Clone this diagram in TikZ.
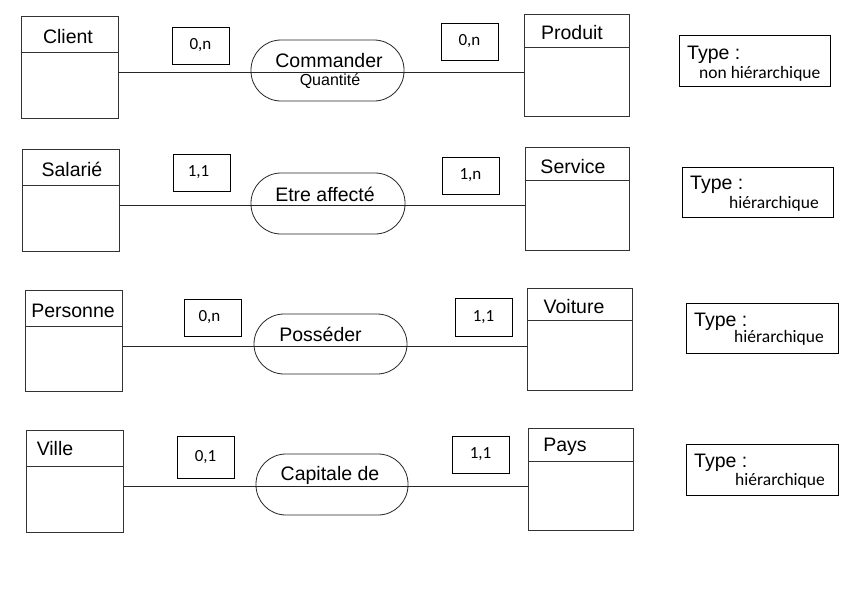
\documentclass[tikz,border=0pt]{standalone}
\usepackage{fontspec}
\setmainfont{Liberation Sans}
\newfontfamily\calfont{Carlito}
\tikzset{
  ent/.style={draw=black!80, line width=0.9pt, inner sep=0pt, minimum width=97, minimum height=102},
  card/.style={draw=black, line width=0.8pt, inner sep=0pt, minimum width=57, minimum height=37, font=\calfont\fontsize{17}{19}\selectfont},
  rel/.style={draw=black!85, line width=0.8pt, inner sep=0pt, minimum width=153, minimum height=61, rounded corners=30pt},
  typebox/.style={draw=black, line width=0.8pt, inner sep=0pt, minimum width=151, minimum height=51},
  big/.style={inner sep=0pt, font=\fontsize{19.5}{21}\selectfont},
  small/.style={inner sep=0pt, font=\fontsize{16}{18}\selectfont},
  typet/.style={inner sep=0pt, anchor=west, font=\fontsize{19.5}{21}\selectfont},
  typev/.style={inner sep=0pt, anchor=west, font=\calfont\fontsize{17.5}{19}\selectfont},
  conn/.style={draw=black!85, line width=0.8pt},
  hdr/.style={draw=black!80, line width=0.9pt}
}
\begin{document}
\begin{tikzpicture}[x=1pt,y=-1pt]
\useasboundingbox[fill=white] (0,0) rectangle (853,589);

% ---------- Row 1 ----------
\node[ent] (client) at (69.5,67) {};
\node[ent, minimum width=105] (produit) at (576.5,65) {};
\node[rel] (cmd) at (327.5,70.5) {};
\coordinate (y1) at (0,72);
\draw[conn] (client.east |- y1) -- (produit.west |- y1);
\draw[hdr] (client.west |- 0,52) -- (client.east |- 0,52);
\draw[hdr] (produit.west |- 0,47) -- (produit.east |- 0,47);
\node[big] (clientt) at (68,37) {Client};
\node[big] (produitt) at (572,33) {Produit};
\node[big] (cmdt) at (329,61) {Commander};
\node[small] (cmdq) at (330,81) {Quantité};
\node[card] (c1a) at (200.5,45.5) {\raisebox{-2pt}{0,n}};
\node[card] (c1b) at (469.5,41.5) {\raisebox{-1pt}{0,n}};
\node[typebox] (type1) at (754.5,60.5) {};
\node[typet] (type1a) at (687,55) {Type :};
\node[typev] (type1b) at (699,74) {non hiérarchique};

% ---------- Row 2 ----------
\node[ent] (salarie) at (70.5,200) {};
\node[ent, minimum width=104, minimum height=103] (service) at (577,198.5) {};
\node[rel, minimum width=154] (aff) at (328,203.5) {};
\coordinate (y2) at (0,205);
\draw[conn] (salarie.east |- y2) -- (service.west |- y2);
\draw[hdr] (salarie.west |- 0,185) -- (salarie.east |- 0,185);
\draw[hdr] (service.west |- 0,180) -- (service.east |- 0,180);
\node[big] (salariet) at (72,169) {Salarié};
\node[big] (servicet) at (573,167) {Service};
\node[big] (afft) at (325,194) {Etre affecté};
\node[card] (c2a) at (201.5,172.5) {\hspace*{-6pt}\raisebox{-2pt}{1,1}};
\node[card] (c2b) at (470.5,175.5) {\raisebox{-1pt}{1,n}};
\node[typebox, minimum height=50] (type2) at (757.5,192) {};
\node[typet] (type2a) at (690,185) {Type :};
\node[typev] (type2b) at (729,204) {hiérarchique};

% ---------- Row 3 ----------
\node[ent, minimum height=101] (personne) at (73.5,340.5) {};
\node[ent, minimum width=105] (voiture) at (579.5,339) {};
\node[rel, minimum height=60] (pos) at (330.5,344) {};
\coordinate (y3) at (0,346);
\draw[conn] (personne.east |- y3) -- (voiture.west |- y3);
\draw[hdr] (personne.west |- 0,326) -- (personne.east |- 0,326);
\draw[hdr] (voiture.west |- 0,320) -- (voiture.east |- 0,320);
\node[big] (personnet) at (73,311) {Personne};
\node[big] (voituret) at (574,307) {Voiture};
\node[big] (post) at (320.5,334) {Posséder};
\node[card] (c3a) at (212.5,317.5) {\hspace*{-6pt}\raisebox{-2pt}{0,n}};
\node[card, minimum height=38] (c3b) at (483.5,317.5) {\raisebox{-1pt}{1,1}};
\node[typebox, minimum width=152, minimum height=50] (type3) at (762,328) {};
\node[typet] (type3a) at (694,322) {Type :};
\node[typev] (type3b) at (734,338) {hiérarchique};

% ---------- Row 4 ----------
\node[ent] (ville) at (74.5,481) {};
\node[ent, minimum width=105] (pays) at (580.5,479) {};
\node[rel, minimum width=152] (cap) at (332,484.5) {};
\coordinate (y4) at (0,486);
\draw[conn] (ville.east |- y4) -- (pays.west |- y4);
\draw[hdr] (ville.west |- 0,466) -- (ville.east |- 0,466);
\draw[hdr] (pays.west |- 0,461) -- (pays.east |- 0,461);
\node[big] (villet) at (55,449) {Ville};
\node[big] (payst) at (565,447) {Pays};
\node[big] (capt) at (330,475) {Capitale de};
\node[card, minimum height=42] (c4a) at (205.5,457) {\raisebox{-1pt}{0,1}};
\node[card] (c4b) at (480.5,454.5) {\raisebox{-1pt}{1,1}};
\node[typebox, minimum width=152] (type4) at (762,469.5) {};
\node[typet] (type4a) at (694,463) {Type :};
\node[typev] (type4b) at (735,481) {hiérarchique};
\end{tikzpicture}
\end{document}
